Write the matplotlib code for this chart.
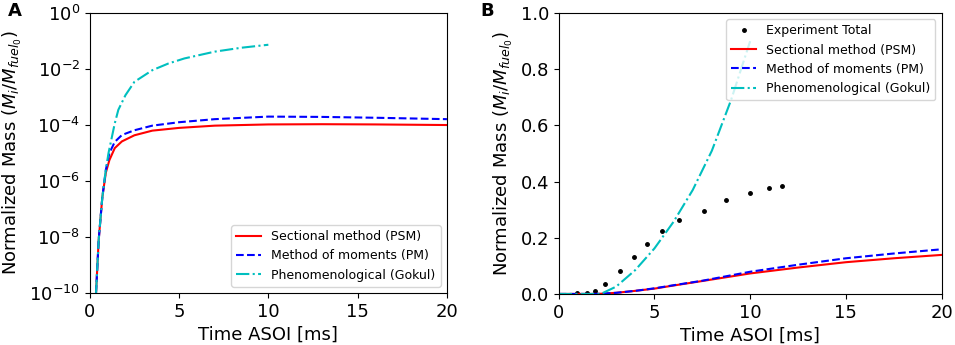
import matplotlib
matplotlib.use('Agg')
import matplotlib.pyplot as plt

# panel A (log scale), time in ms
t_a = [0.35, 0.5, 0.7, 0.9, 1.1, 1.4, 1.8, 2.5, 3.5, 5.0, 7.0, 10.0, 13.0, 16.0, 20.0]
psm_a = [1e-10, 7.9e-9, 2.5e-7, 2.0e-6, 5.6e-6, 1.5e-5, 2.6e-5, 4.3e-5, 6.3e-5,
         7.9e-5, 9.5e-5, 1.05e-4, 1.07e-4, 1.05e-4, 1.0e-4]
pm_a = [1e-10, 7.9e-9, 2.5e-7, 2.5e-6, 1.0e-5, 2.5e-5, 4.4e-5, 6.5e-5, 9.5e-5,
        1.26e-4, 1.62e-4, 2.0e-4, 1.95e-4, 1.82e-4, 1.62e-4]
t_gok_a = [0.35, 0.5, 0.7, 0.9, 1.05, 1.4, 1.6, 2.0, 2.5, 3.5, 4.4, 5.3, 7.0, 8.5, 10.0]
gok_a = [1e-10, 7.9e-9, 2.5e-7, 2.5e-6, 1.0e-5, 1.15e-4, 3.5e-4, 1.17e-3, 3.5e-3,
         9.1e-3, 1.58e-2, 2.4e-2, 4.2e-2, 5.8e-2, 7.4e-2]

# panel B (linear scale)
t_exp = [0.96, 1.48, 1.88, 2.44, 3.2, 3.95, 4.63, 5.42, 6.3, 7.58, 8.76, 10.0, 10.96, 11.66]
exp_b = [0.005, 0.005, 0.01, 0.034, 0.08, 0.13, 0.178, 0.224, 0.263, 0.297, 0.334, 0.359, 0.378, 0.383]
t_lin_b = [0, 2.0, 3.0, 4.0, 5.0, 6.0, 7.5, 10.0, 12.5, 15.0, 17.5, 20.0]
psm_b = [0.0, 0.0, 0.004, 0.011, 0.019, 0.03, 0.046, 0.073, 0.094, 0.113, 0.127, 0.139]
pm_b = [0.0, 0.0, 0.004, 0.011, 0.020, 0.031, 0.047, 0.079, 0.104, 0.127, 0.144, 0.159]
t_gok_b = [0, 2.2, 3.0, 4.0, 5.0, 6.0, 7.0, 8.0, 9.0, 10.0]
gok_b = [0.0, 0.0, 0.026, 0.085, 0.162, 0.257, 0.37, 0.51, 0.69, 0.90]

lbl_psm = 'Sectional method (PSM)'
lbl_pm = 'Method of moments (PM)'
lbl_gok = 'Phenomenological (Gokul)'
ylab = r'Normalized Mass ($M_i/M_{fuel_0}$)'

plt.rcParams['font.size'] = 13

fig = plt.figure(figsize=(9.55, 3.45), dpi=100)
ax1 = fig.add_axes([0.094, 0.151, 0.374, 0.811])
ax2 = fig.add_axes([0.585, 0.148, 0.401, 0.814])

ax1.plot(t_a, psm_a, color='r', lw=1.5, label=lbl_psm)
ax1.plot(t_a, pm_a, color='b', lw=1.5, ls='--', label=lbl_pm)
ax1.plot(t_gok_a, gok_a, color='c', lw=1.5, ls='-.', label=lbl_gok)
ax1.set_yscale('log')
ax1.set_xlim(0, 20)
ax1.set_ylim(1e-10, 1)
ax1.set_yticks([1e-10, 1e-8, 1e-6, 1e-4, 1e-2, 1])
ax1.minorticks_off()
ax1.set_xticks([0, 5, 10, 15, 20])
ax1.set_xlabel('Time ASOI [ms]')
ax1.set_ylabel(ylab)
ax1.legend(loc='lower right', fontsize=9)

ax2.plot(t_exp, exp_b, 'k.', ms=5, label='Experiment Total')
ax2.plot(t_lin_b, psm_b, color='r', lw=1.5, label=lbl_psm)
ax2.plot(t_lin_b, pm_b, color='b', lw=1.5, ls='--', label=lbl_pm)
ax2.plot(t_gok_b, gok_b, color='c', lw=1.5, ls='-.', label=lbl_gok)
ax2.set_xlim(0, 20)
ax2.set_ylim(0, 1.0)
ax2.set_xticks([0, 5, 10, 15, 20])
ax2.set_yticks([0.0, 0.2, 0.4, 0.6, 0.8, 1.0])
ax2.set_xlabel('Time ASOI [ms]')
ax2.set_ylabel(ylab)
ax2.legend(loc='upper right', fontsize=9)

fig.text(0.008, 0.955, 'A', fontsize=13, fontweight='bold')
fig.text(0.503, 0.955, 'B', fontsize=13, fontweight='bold')

plt.savefig('out.png', dpi=100)
plt.close()
